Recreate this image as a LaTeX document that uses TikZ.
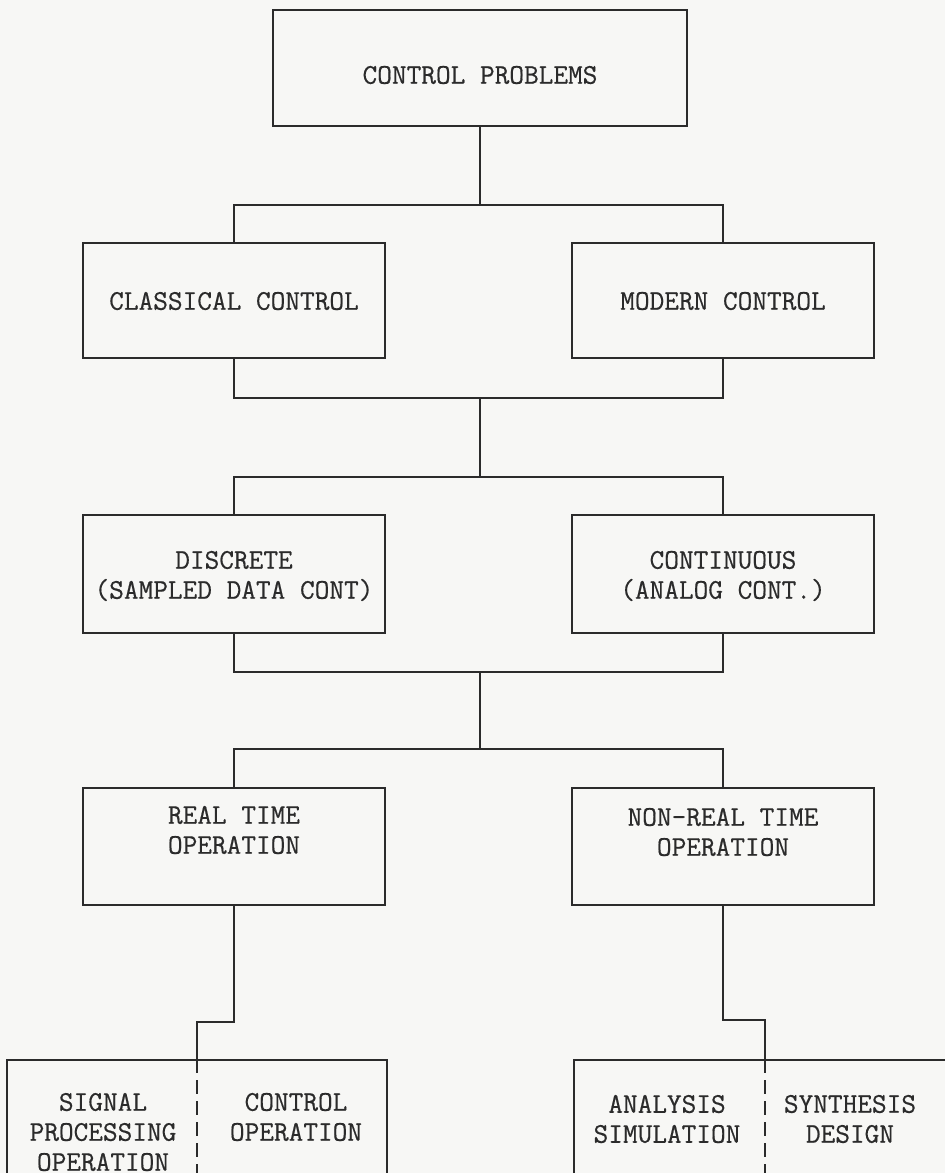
\documentclass[tikz,border=0pt]{standalone}
\usepackage{fontspec}
\newfontfamily\typewr{Latin Modern Mono}[FakeBold=0.5]
\definecolor{ink}{HTML}{2B2B2B}
\definecolor{paper}{HTML}{F7F7F5}
\begin{document}
\begin{tikzpicture}[x=1pt,y=-1pt,
  every node/.style={inner sep=0pt},
  blk/.style={draw=ink,line width=1.6pt,minimum width=302pt,minimum height=116pt},
  lbl/.style={text=ink,align=center,font=\fontsize{28.5}{30}\selectfont\typewr},
  link/.style={draw=ink,line width=1.6pt},
  divider/.style={draw=ink,line width=1.3pt,dash pattern=on 14pt off 7pt}]
\useasboundingbox (0,0) rectangle (945,1173);
\fill[paper] (0,0) rectangle (945,1173);
\clip (0,0) rectangle (945,1173);

% boxes of the hierarchy
\node[blk,minimum width=414pt,minimum height=116pt] (top) at (480,68) {};
\node[lbl] (topT) at (480,75) {CONTROL PROBLEMS};

\node[blk,minimum height=115pt] (cls) at (234,300.5) {};
\node[lbl] (clsT) at (234,301) {CLASSICAL CONTROL};
\node[blk,minimum height=115pt] (mod) at (723,300.5) {};
\node[lbl] (modT) at (723,301) {MODERN CONTROL};

\node[blk,minimum height=118pt] (dis) at (234,574) {};
\node[lbl] (disT) at (234,576) {DISCRETE\\(SAMPLED DATA CONT)};
\node[blk,minimum height=118pt] (con) at (723,574) {};
\node[lbl] (conT) at (723,576) {CONTINUOUS\\(ANALOG CONT.)};

\node[blk,minimum height=117pt] (rt) at (234,846.5) {};
\node[lbl] (rtT) at (234,830) {REAL TIME\\OPERATION};
\node[blk,minimum height=117pt] (nrt) at (723,846.5) {};
\node[lbl] (nrtT) at (723,832) {NON-REAL TIME\\OPERATION};

% split boxes at the foot
\node[blk,minimum width=380pt,minimum height=140pt] (lb) at (197,1130) {};
\node[blk,minimum width=382pt,minimum height=140pt] (rb) at (765,1130) {};
\draw[divider] (lb.north) -- (lb.south);
\draw[divider] (rb.north) -- (rb.south);
\node[lbl] (sig) at (103,1132) {SIGNAL\\PROCESSING\\OPERATION};
\node[lbl] (ctl) at (296,1117) {CONTROL\\OPERATION};
\node[lbl] (ana) at (667,1119) {ANALYSIS\\SIMULATION};
\node[lbl] (syn) at (850,1119) {SYNTHESIS\\DESIGN};

% junction points of the connectors
\coordinate (j1) at (480,205);
\coordinate (j2) at (480,398);
\coordinate (j3) at (480,477);
\coordinate (j4) at (480,672);
\coordinate (j5) at (480,749);
\coordinate (kl) at (197,1022);
\coordinate (kr) at (765,1020);

% connectors
\draw[link] (top.south) -- (j1);
\draw[link] (cls.north) |- (j1) -| (mod.north);
\draw[link] (cls.south) |- (j2) -| (mod.south);
\draw[link] (j2) -- (j3);
\draw[link] (dis.north) |- (j3) -| (con.north);
\draw[link] (dis.south) |- (j4) -| (con.south);
\draw[link] (j4) -- (j5);
\draw[link] (rt.north) |- (j5) -| (nrt.north);
\draw[link] (rt.south) |- (kl) -- (lb.north);
\draw[link] (nrt.south) |- (kr) -- (rb.north);
\end{tikzpicture}
\end{document}
